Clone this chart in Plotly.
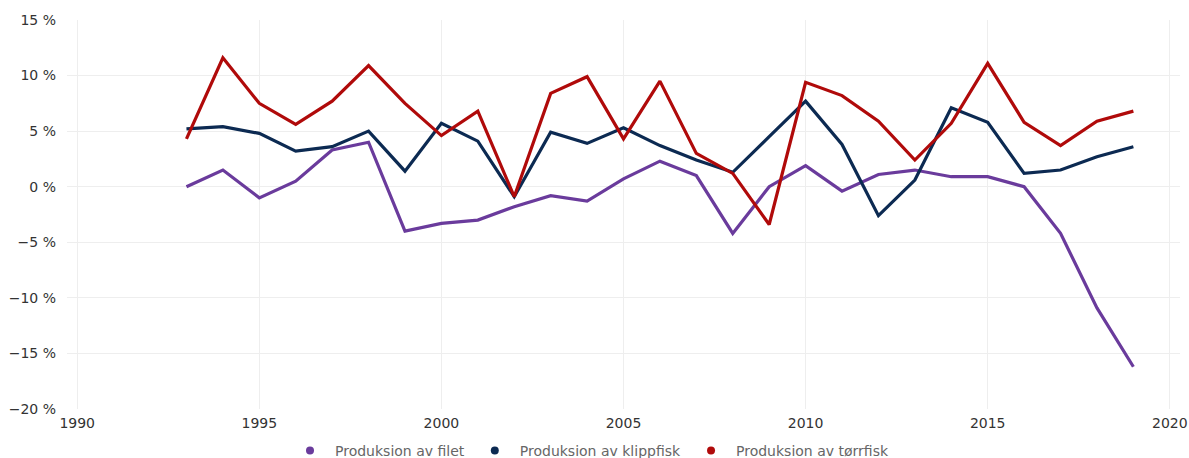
import plotly.graph_objects as go

years = list(range(1993, 2020))
filet = [0.0, 1.5, -1.0, 0.5, 3.3, 4.0, -4.0, -3.3, -3.0, -1.8, -0.8, -1.3, 0.7, 2.3, 1.0,
         -4.2, 0.0, 1.9, -0.4, 1.1, 1.5, 0.9, 0.9, 0.0, -4.2, -10.9, -16.2]
klippfisk = [5.2, 5.4, 4.8, 3.2, 3.6, 5.0, 1.4, 5.7, 4.1, -0.9, 4.9, 3.9, 5.3, 3.7, 2.4,
             1.3, 4.5, 7.7, 3.8, -2.6, 0.6, 7.1, 5.8, 1.2, 1.5, 2.7, 3.6]
torrfisk = [4.3, 11.6, 7.5, 5.6, 7.7, 10.9, 7.5, 4.6, 6.8, -0.9, 8.4, 9.9, 4.3, 9.5, 3.0,
            1.2, -3.4, 9.4, 8.2, 5.9, 2.4, 5.7, 11.1, 5.8, 3.7, 5.9, 6.8]

names = ["Produksion av filet", "Produksion av klippfisk", "Produksion av tørrfisk"]
colors = ["#6a3b9c", "#0c2a52", "#b00a0a"]
series = [filet, klippfisk, torrfisk]

fig = go.Figure()
for name, col, vals in zip(names, colors, series):
    fig.add_trace(go.Scatter(x=years, y=vals, mode="lines", name=name,
                             line=dict(color=col, width=3.2), showlegend=False,
                             legendgroup=name))
for name, col in zip(names, colors):
    fig.add_trace(go.Scatter(x=[None], y=[None], mode="markers", name=name,
                             marker=dict(color=col, size=8), legendgroup=name))

fig.update_layout(
    width=1189, height=458,
    margin=dict(l=67, r=9, t=20, b=49, autoexpand=False),
    paper_bgcolor="white", plot_bgcolor="white",
    font=dict(family="DejaVu Sans", size=14, color="#333"),
    showlegend=True,
    legend=dict(orientation="h", xref="container", x=0.4958, xanchor="center",
                yref="container", y=1 - 451 / 458, yanchor="middle",
                font=dict(size=14, color="#666"), itemwidth=40, tracegroupgap=0),
    xaxis=dict(range=[1989.72, 2020.28], tickvals=[1990, 1995, 2000, 2005, 2010, 2015, 2020],
               showgrid=True, gridcolor="#eeeeee", zeroline=False, showline=False,
               automargin=False, ticklabelstandoff=4, ticklabeloverflow="allow",
               tickfont=dict(size=14, color="#333")),
    yaxis=dict(range=[-20, 15], dtick=5, ticksuffix=" %", showgrid=True,
               gridcolor="#eeeeee", zeroline=False, showline=False, automargin=False,
               ticklabelstandoff=10, tickfont=dict(size=14, color="#333")),
)

fig.write_html(
    "out.html",
    config={"displayModeBar": False},
    post_script="document.body.style.margin='0';"
                "document.documentElement.style.overflow='hidden';"
                "document.body.style.overflow='hidden';",
)
